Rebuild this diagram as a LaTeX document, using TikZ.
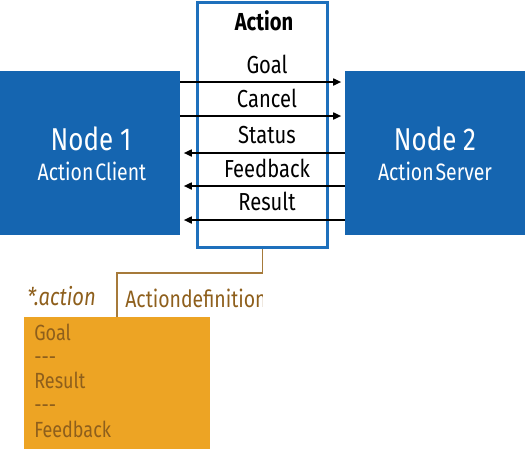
\documentclass[tikz,border=0pt]{standalone}
\usepackage{fontspec}
\setmainfont[FakeStretch=0.82]{Fira Sans}
\usetikzlibrary{arrows.meta,positioning,calc}
\definecolor{nodeblue}{HTML}{1565B0}
\definecolor{framblue}{HTML}{1E70BC}
\definecolor{defyellow}{HTML}{EDA424}
\definecolor{defbrown}{HTML}{8E5F1C}
\definecolor{linkbrown}{HTML}{A67A3A}
\tikzstyle{rosnode} = [rectangle, fill=nodeblue, minimum width=3.6cm, minimum height=3.28cm, inner sep=0pt]
\tikzstyle{nodetitle} = [anchor=base, text=white, inner sep=0pt, font=\fontsize{18}{20}\selectfont]
\tikzstyle{nodesub} = [anchor=base, text=white, inner sep=0pt, font=\fontsize{13.5}{15}\selectfont]
\tikzstyle{msg} = [anchor=base, inner sep=0pt, font=\fontsize{14}{16}\selectfont]
\tikzstyle{sig} = [line width=0.85pt, -{Triangle[length=4.5pt,width=4pt]}, shorten >=2pt]
\tikzstyle{deftext} = [anchor=base west, inner sep=0pt, text=defbrown, font=\fontsize{12.5}{14}\selectfont]
\tikzstyle{link} = [linkbrown, line width=1pt]

\begin{document}
\begin{tikzpicture}[x=0.02cm, y=-0.02cm]
\useasboundingbox (0,0) rectangle (525,454);
% the two ROS nodes
\node[rosnode] (client) at (90,153) {};
\node[rosnode] (server) at (435,153) {};
\node[nodetitle] (n1) at (91,150) {Node 1};
\node[nodesub] (c1) at (92,180) {Action\hspace{0.08em}Client};
\node[nodetitle] (n2) at (435,150) {Node 2};
\node[nodesub] (s2) at (435,180) {Action\hspace{0.08em}Server};
% the action frame
\node[draw=framblue, line width=1.7pt, fill=white, minimum width=2.62cm, minimum height=4.92cm] (action) at (262.5,125) {};
\node[msg, font=\fontsize{14}{16}\selectfont\bfseries] (title) at (264,30) {Action};
\node[msg] (goal) at (267,73) {Goal};
\node[msg] (cancel) at (267,107) {Cancel};
\node[msg] (status) at (267,143) {Status};
\node[msg] (feedback) at (267,177) {Feedback};
\node[msg] (result) at (267,210) {Result};
\foreach \y in {82,116}
  \draw[sig] (client.east |- 0,\y) -- (server.west |- 0,\y);
\foreach \y in {153,186,220}
  \draw[sig] (server.west |- 0,\y) -- (client.east |- 0,\y);
% action definition
\node[fill=defyellow, minimum width=3.72cm, minimum height=2.64cm] (defbox) at (117,383) {};
\coordinate (bend) at (117,273);
\draw[link] (action.south) |- (bend) -- (bend |- defbox.north);
\node[anchor=base west, inner sep=0pt, text=defbrown, font=\fontsize{14}{16}\selectfont\itshape] (ext) at (27,305) {*.action};
\begin{scope}
\clip (120,280) rectangle (262,315);
\node[anchor=base west, inner sep=0pt, text=defbrown, font=\fontsize{13.5}{16}\selectfont] (deflabel) at (125,307) {Actiondefinition};
\end{scope}
\foreach \y/\t in {340/Goal,364/-{}-{}-,388/Result,412/-{}-{}-,437/Feedback}
  \node[deftext] (d\y) at (34,\y) {\t};
\end{tikzpicture}
\end{document}
